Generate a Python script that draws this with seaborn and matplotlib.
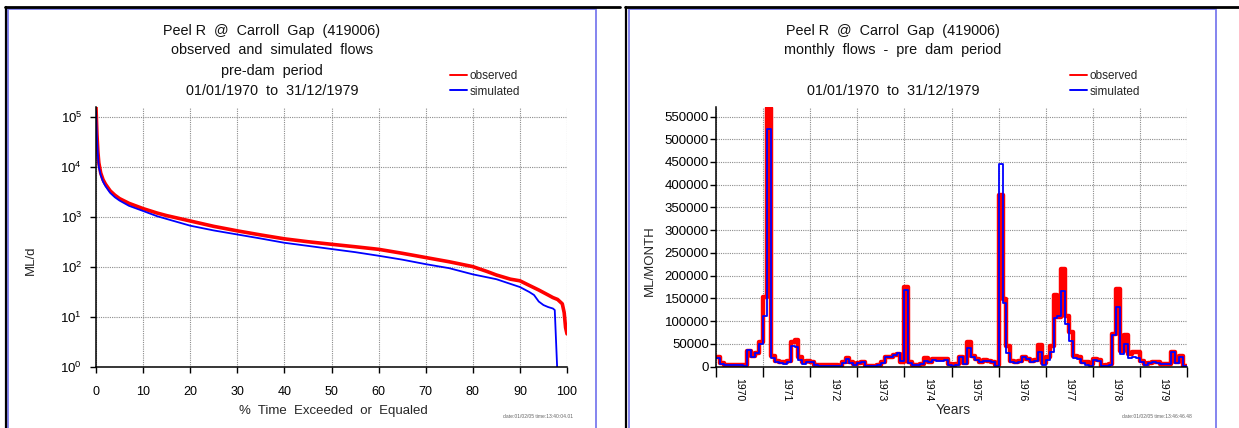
import matplotlib
matplotlib.use("Agg")
import matplotlib.pyplot as plt
import seaborn as sns
import numpy as np
import pandas as pd
from matplotlib.lines import Line2D
from matplotlib.patches import Rectangle
from matplotlib.ticker import FixedLocator, NullLocator, NullFormatter, FuncFormatter

# ---------------- data ----------------
# flow duration curve (left panel)
dur_obs_pct = [0, 0.2, 0.4, 0.6, 1, 1.5, 2, 3, 4, 5, 7, 10, 13, 15, 20, 25, 30, 35, 40, 45,
               50, 55, 60, 65, 70, 75, 80, 83, 85, 88, 90, 92, 94, 96, 97, 98, 99, 99.4, 99.7, 100]
dur_obs = [156000, 45000, 20000, 12000, 7500, 5500, 4500, 3300, 2700, 2300, 1850, 1450, 1180,
           1050, 820, 640, 520, 430, 360, 315, 280, 250, 222, 185, 152, 125, 100, 80, 68, 56,
           52, 42, 34, 27, 24, 22, 18, 12, 6, 4.5]
dur_sim_pct = [0, 0.2, 0.4, 0.6, 1, 1.5, 2, 3, 4, 5, 7, 10, 13, 15, 20, 25, 30, 35, 40, 45,
               50, 55, 60, 65, 70, 75, 80, 85, 90, 92, 93, 94, 95, 96, 97, 97.4, 97.9]
dur_sim = [130000, 38000, 17000, 10000, 6800, 5000, 4100, 3000, 2450, 2100, 1650, 1300, 1020,
           900, 660, 530, 440, 365, 300, 260, 225, 195, 165, 138, 112, 93, 70, 56, 39, 31, 27,
           20, 17, 15.5, 14.5, 13.5, 1]

# monthly flows (right panel), Jan 1970 .. Dec 1979, ML/month
obs_1970 = [22000, 8000, 3500, 3000, 3000, 3000, 3500, 3000, 35000, 23000, 30000, 54000]
obs_1971 = [152000, 568000, 23000, 12000, 10000, 10000, 13000, 53000, 58000, 20000, 9500, 12000]
obs_1972 = [11000, 4000, 3000, 2500, 2500, 2500, 2500, 2000, 9000, 18000, 9000, 5000]
obs_1973 = [7000, 10000, 2000, 1500, 1500, 3000, 9000, 21000, 22000, 25000, 28000, 11000]
obs_1974 = [176000, 11000, 4000, 3500, 6000, 18000, 11000, 17000, 16000, 16000, 17000, 5000]
obs_1975 = [2000, 5000, 21000, 7000, 53000, 24000, 16000, 11000, 15000, 13000, 11000, 3000]
obs_1976 = [378000, 148000, 45000, 13000, 9500, 11500, 21000, 17500, 12000, 14500, 48000, 7000]
obs_1977 = [21000, 46000, 158000, 110000, 214000, 111000, 76000, 24000, 21000, 11000, 9000, 6000]
obs_1978 = [16000, 15000, 2000, 2500, 6000, 71000, 170000, 35000, 69000, 28000, 31000, 33000]
obs_1979 = [13000, 6000, 8000, 10000, 9500, 6000, 6000, 6000, 33000, 9500, 24000, 2000]

sim_1970 = [18500, 6000, 2500, 2500, 2500, 2500, 2500, 2000, 36500, 22000, 29000, 49000]
sim_1971 = [111000, 522000, 18500, 9000, 7000, 6000, 9000, 45000, 44000, 15000, 6000, 11000]
sim_1972 = [10500, 2500, 2000, 2000, 2000, 2000, 2000, 1500, 8500, 17000, 8000, 4000]
sim_1973 = [7500, 11000, 1500, 1000, 1000, 2500, 8500, 21000, 22000, 25000, 29000, 13000]
sim_1974 = [168000, 8500, 3000, 3000, 5000, 13000, 9500, 14000, 13000, 13000, 14000, 3000]
sim_1975 = [1500, 4000, 22000, 6500, 41000, 22000, 14000, 9000, 13000, 12000, 10000, 1500]
sim_1976 = [446000, 139000, 30000, 9500, 7500, 11000, 21000, 17000, 9500, 13000, 32000, 3000]
sim_1977 = [15000, 32000, 107000, 112000, 166000, 94000, 56000, 18000, 16000, 7000, 4000, 1500]
sim_1978 = [14000, 13000, 1500, 2000, 4000, 69000, 132000, 28000, 49000, 18000, 20000, 19000]
sim_1979 = [9500, 2500, 7000, 9500, 7500, 5500, 5500, 5500, 31000, 7500, 20000, 1500]

years = [1970, 1971, 1972, 1973, 1974, 1975, 1976, 1977, 1978, 1979]
pct_ticks = [0, 10, 20, 30, 40, 50, 60, 70, 80, 90, 100]
flow_ticks = [0, 50000, 100000, 150000, 200000, 250000, 300000, 350000, 400000, 450000, 500000, 550000]

title_left = ["Peel R  @  Carroll  Gap  (419006)", "observed  and  simulated  flows",
              "pre-dam  period", "01/01/1970  to  31/12/1979"]
title_right = ["Peel R  @  Carrol  Gap  (419006)", "monthly  flows  -  pre  dam  period",
               "01/01/1970  to  31/12/1979"]
stamp_left = "date:01/02/05 time:13:40:04.01"
stamp_right = "date:01/02/05 time:13:46:46.48"

obs_monthly = (obs_1970 + obs_1971 + obs_1972 + obs_1973 + obs_1974 + obs_1975 + obs_1976 +
               obs_1977 + obs_1978 + obs_1979)
sim_monthly = (sim_1970 + sim_1971 + sim_1972 + sim_1973 + sim_1974 + sim_1975 + sim_1976 +
               sim_1977 + sim_1978 + sim_1979)

# ---------------- style ----------------
sns.set_theme(style="white")
plt.rcParams["font.family"] = ["Liberation Sans", "DejaVu Sans"]
plt.rcParams["mathtext.fontset"] = "custom"
plt.rcParams["mathtext.rm"] = "Liberation Sans"
plt.rcParams["mathtext.default"] = "regular"

RED = "#ff0000"
BLUE = "#0000ff"
GRID = "#8c8c8c"
FRAME = "#7b7bee"

W, H = 1239, 428
fig = plt.figure(figsize=(W / 100, H / 100), dpi=100)
fig.patch.set_facecolor("white")


def fx(px):
    return px / W


def fy(py):
    return 1 - py / H


# panel decorations
for x0, x1 in [(8, 596), (629, 1216)]:
    fig.add_artist(Rectangle((fx(x0), fy(440)), fx(x1) - fx(x0), (440 - 9.5) / H, fill=False,
                             ec=FRAME, lw=1.3, transform=fig.transFigure))
for xv in [6, 626]:
    fig.add_artist(Line2D([fx(xv), fx(xv)], [fy(7), 0], color="black", lw=1.6,
                          transform=fig.transFigure))
fig.add_artist(Line2D([fx(5), fx(620)], [fy(7), fy(7)], color="black", lw=2.0,
                      transform=fig.transFigure))
fig.add_artist(Line2D([fx(625), 1], [fy(7), fy(7)], color="black", lw=2.0,
                      transform=fig.transFigure))

ax_top, ax_bot = 107, 366.5
axL = fig.add_axes([fx(96), fy(ax_bot), fx(567) - fx(96), (ax_bot - ax_top) / H])
axR = fig.add_axes([fx(716), fy(ax_bot), fx(1187) - fx(716), (ax_bot - ax_top) / H])

# ---------------- left: flow duration ----------------
df_obs = pd.DataFrame({"pct": dur_obs_pct, "flow": dur_obs})
df_sim = pd.DataFrame({"pct": dur_sim_pct, "flow": dur_sim})
sns.lineplot(data=df_obs, x="pct", y="flow", ax=axL, color=RED, lw=2.6, estimator=None,
             sort=False)
sns.lineplot(data=df_sim, x="pct", y="flow", ax=axL, color=BLUE, lw=1.3, estimator=None,
             sort=False)
axL.set_yscale("log")
axL.set_xlim(0, 100)
axL.set_ylim(1, 1.57e5)
axL.xaxis.set_major_locator(FixedLocator(pct_ticks))
axL.yaxis.set_major_locator(FixedLocator([1, 10, 100, 1000, 10000, 100000]))
axL.yaxis.set_minor_locator(NullLocator())
axL.yaxis.set_major_formatter(FuncFormatter(lambda v, p: r"$10^{%d}$" % round(np.log10(v))))
axL.tick_params(axis="x", direction="out", length=4, width=1, color="black", pad=10,
                labelsize=9, labelcolor="black", bottom=True)
axL.tick_params(axis="y", direction="out", length=4, width=1, color="black", pad=6,
                labelsize=9.5, labelcolor="black", left=True)
axL.set_xlabel("")
axL.set_ylabel("")

# ---------------- right: monthly ----------------
edges = list(range(0, len(obs_monthly) + 1))
df_mo = pd.DataFrame({"month": edges, "obs": obs_monthly + [obs_monthly[-1]],
                      "sim": sim_monthly + [sim_monthly[-1]]})
sns.lineplot(data=df_mo, x="month", y="obs", ax=axR, color=RED, lw=3.2, estimator=None,
             sort=False, drawstyle="steps-post")
sns.lineplot(data=df_mo, x="month", y="sim", ax=axR, color=BLUE, lw=1.3, estimator=None,
             sort=False, drawstyle="steps-post")
axR.set_xlim(0, 120)
axR.set_ylim(0, 571000)
axR.xaxis.set_major_locator(FixedLocator([12 * i for i in range(len(years) + 1)]))
axR.xaxis.set_major_formatter(NullFormatter())
axR.xaxis.set_minor_locator(FixedLocator([12 * i + 6 for i in range(len(years))]))
axR.xaxis.set_minor_formatter(FuncFormatter(lambda v, p: str(years[int(v // 12)])))
axR.yaxis.set_major_locator(FixedLocator(flow_ticks))
axR.yaxis.set_major_formatter(FuncFormatter(lambda v, p: "%d" % v))
axR.tick_params(axis="x", which="major", direction="out", length=7, width=1, color="black",
                bottom=True)
axR.tick_params(axis="x", which="minor", length=0, pad=8, labelsize=7.5, labelrotation=-90,
                labelcolor="black", bottom=True)
axR.tick_params(axis="y", direction="out", length=4, width=1, color="black", pad=1,
                labelsize=9.5, labelcolor="black", left=True)
axR.set_xlabel("")
axR.set_ylabel("")

for ax in (axL, axR):
    for s in ("top", "right"):
        ax.spines[s].set_visible(False)
    for s in ("left", "bottom"):
        ax.spines[s].set_color("black")
        ax.spines[s].set_linewidth(1.1)
    ax.grid(True, which="major", axis="both", color=GRID, linestyle=(0, (1, 1)), linewidth=0.8)
    ax.set_axisbelow(True)
    ax.set_facecolor("white")

# ---------------- texts ----------------
for txt, yy in zip(title_left, [31, 50, 71, 91]):
    fig.text(fx(272), fy(yy), txt, ha="center", va="center", fontsize=10.4, color="#111111")
for txt, yy in zip(title_right, [31, 50, 91]):
    fig.text(fx(893), fy(yy), txt, ha="center", va="center", fontsize=10.4, color="#111111")

fig.text(fx(31), fy(260), "ML/d", rotation=90, ha="center", va="center", fontsize=9.5)
fig.text(fx(650), fy(261), "ML/MONTH", rotation=90, ha="center", va="center", fontsize=9.5)
fig.text(fx(333), fy(411), "%  Time  Exceeded  or  Equaled", ha="center", va="center",
         fontsize=9.5)
fig.text(fx(953), fy(410), "Years", ha="center", va="center", fontsize=10)
fig.text(fx(538), fy(416), stamp_left, ha="center", va="center", fontsize=3.6, color="#666666")
fig.text(fx(1157), fy(417), stamp_right, ha="center", va="center", fontsize=3.6,
         color="#666666")

handles = [Line2D([], [], color=RED, lw=1.4), Line2D([], [], color=BLUE, lw=1.4)]
labels = ["observed", "simulated"]
for ax, lx in ((axL, 450), (axR, 1070)):
    ax.legend(handles, labels, loc="upper left", bbox_to_anchor=(fx(lx), fy(70)),
              bbox_transform=fig.transFigure, frameon=False, fontsize=8.5, borderpad=0,
              borderaxespad=0, handlelength=1.45, handletextpad=0.2, labelspacing=0.3)

fig.savefig("out.png", dpi=100, facecolor="white")
